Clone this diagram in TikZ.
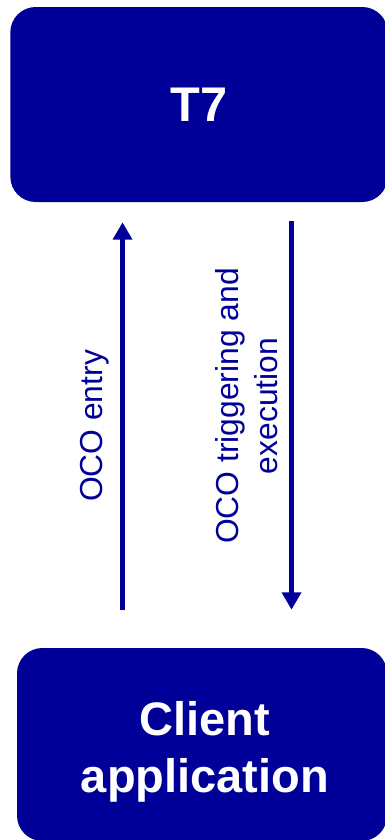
\documentclass[tikz,border=0pt]{standalone}
\usepackage{fontspec}
\setmainfont{Liberation Sans}
\usepackage{xcolor}
\usetikzlibrary{arrows.meta}
\definecolor{ocoblue}{RGB}{0,0,153}

\begin{document}
\begin{tikzpicture}[x=0.75pt, y=-0.75pt,
        system/.style={fill=ocoblue, text=white, rounded corners=19pt, align=center, inner sep=0pt},
        flow/.style={draw=ocoblue, line width=4.2pt, -{Triangle[width=14pt, length=13pt]}},
        flowlabel/.style={text=ocoblue, rotate=90, align=center, inner sep=0pt, font=\fontsize{23.85}{29.25}\selectfont}]
        % Page
        \useasboundingbox (0,0) rectangle (385,840);

        % T7
        \node[system, minimum width=283pt, minimum height=146.25pt, font=\bfseries\fontsize{36.5}{43}\selectfont] (t7) at (199,104.5) {T7};

        % Client application
        \node[system, minimum width=277.5pt, minimum height=144.75pt] (client) at (202,744.5) {};
        \node[text=white, align=center, inner sep=0pt, font=\bfseries\fontsize{35.25}{42.75}\selectfont] (clientname) at (205,751.5) {Client\\application};

        % Connections
        \draw[flow, shorten <=28.5pt, shorten >=15pt] ([xshift=-59.6pt]client.north) -- ([xshift=-59.6pt]client.north |- t7.south);
        \draw[flow, shorten <=14.25pt, shorten >=28.5pt] ([xshift=69.4pt]t7.south) -- ([xshift=69.4pt]t7.south |- client.north);

        % Labels
        \node[flowlabel] (entrylabel) at (94.5,426) {OCO entry};
        \node[flowlabel] (triggerlabel) at (246.5,406) {OCO triggering and\\execution};
    \end{tikzpicture}
\end{document}
